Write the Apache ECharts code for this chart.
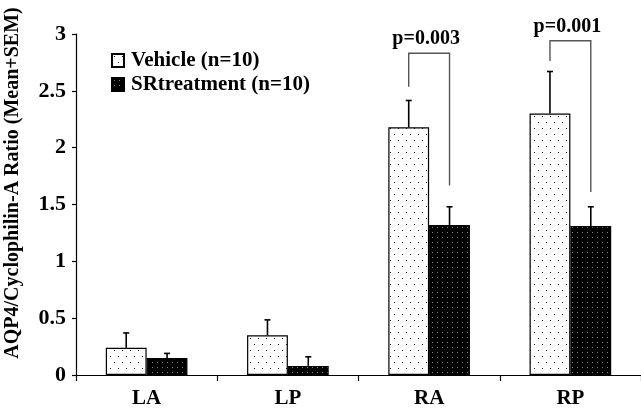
<!DOCTYPE html>
<html><head><meta charset="utf-8">
<script src="https://cdn.jsdelivr.net/npm/echarts@6/dist/echarts.min.js"></script>
<style>html,body{margin:0;padding:0;background:#fff}#c{width:641px;height:409px}</style>
</head><body><div id="c"></div>
<script>
var categories = ['LA', 'LP', 'RA', 'RP'];
var vehicleMean = [0.24, 0.35, 2.18, 2.30];
var vehicleSem = [0.13, 0.135, 0.235, 0.37];
var srMean = [0.15, 0.08, 1.32, 1.31];
var srSem = [0.04, 0.08, 0.16, 0.17];
var seriesNames = ['Vehicle (n=10)', 'SRtreatment (n=10)'];
var yTicks = [0, 0.5, 1, 1.5, 2, 2.5, 3];
// brackets: category index, left leg bottom, top, right leg bottom, label
var bracketCat = [2, 3];
var bracketLeft = [2.535, 2.763];
var bracketTop = [2.83, 2.94];
var bracketRight = [1.667, 1.61];
var bracketLabel = ['p=0.003', 'p=0.001'];
var bracketLabelY = [2.955, 3.06];

var FONT = '"Liberation Serif", "Times New Roman", serif';

function makePattern(bg, dot, w, h, dots) {
  var c = document.createElement('canvas');
  c.width = w; c.height = h;
  var ctx = c.getContext('2d');
  ctx.fillStyle = bg; ctx.fillRect(0, 0, w, h);
  ctx.fillStyle = dot;
  dots.forEach(function (d) { ctx.fillRect(d[0], d[1], 1, 1); });
  return c;
}
var vehPat = makePattern('#ffffff', '#222222', 8, 12, [[2, 2], [6, 8]]);
var srPat = makePattern('#000000', '#8a8a8a', 5, 5, [[2, 2]]);

var chart = echarts.init(document.getElementById('c'), null, {renderer: 'canvas'});

var BW = 0.289;

function errItem(means, sems, side) {
  return function (params, api) {
    var i = api.value(0);
    var m = means[i], s = sems[i];
    var w = api.size([1, 0])[0];
    var p0 = api.coord([i, m]);
    var p1 = api.coord([i, m + s]);
    var x = p0[0] + side * BW * w / 2;
    return {
      type: 'group',
      children: [
        {type: 'line', shape: {x1: x, y1: p0[1], x2: x, y2: p1[1]}, style: {stroke: '#000', lineWidth: 1.6}},
        {type: 'line', shape: {x1: x - 3, y1: p1[1], x2: x + 3, y2: p1[1]}, style: {stroke: '#000', lineWidth: 1.6}}
      ]
    };
  };
}

chart.setOption({
  animation: false,
  backgroundColor: '#fff',
  grid: {left: 76, top: 34, width: 567, height: 342, containLabel: false},
  legend: {
    data: seriesNames,
    orient: 'vertical',
    left: 106, top: 45,
    itemWidth: 12, itemHeight: 13, itemGap: 3,
    icon: 'rect',
    textStyle: {fontFamily: FONT, fontWeight: 'bold', fontSize: 21, color: '#000', padding: [0, 0, 0, 2]}
  },
  xAxis: {
    type: 'category',
    data: categories,
    axisLine: {lineStyle: {color: '#000', width: 1.2}},
    axisTick: {show: true, length: 6, lineStyle: {color: '#000', width: 1.2}},
    axisLabel: {fontFamily: FONT, fontWeight: 'bold', fontSize: 21, color: '#000', margin: 13}
  },
  yAxis: {
    type: 'value', min: 0, max: 3, interval: 0.5,
    axisLine: {show: true, lineStyle: {color: '#000', width: 1.2}},
    axisTick: {show: true, length: 4, lineStyle: {color: '#000', width: 1.2}},
    splitLine: {show: false},
    axisLabel: {fontFamily: FONT, fontWeight: 'bold', fontSize: 22, color: '#000', margin: 10,
      formatter: function (v) { return yTicks.indexOf(v) >= 0 ? String(v) : ''; }}
  },
  graphic: [{
    type: 'text', rotation: Math.PI / 2, x: 13, y: 183,
    style: {text: 'AQP4/Cyclophilin-A Ratio (Mean+SEM)', fontFamily: FONT, fontWeight: 'bold', fontSize: 20,
      fill: '#000', align: 'center', verticalAlign: 'middle'}
  }],
  series: [
    {name: seriesNames[0], type: 'bar', data: vehicleMean, barWidth: '28.9%', barGap: '0%',
      itemStyle: {color: {image: vehPat, repeat: 'repeat'}, borderColor: '#000', borderWidth: 1.2}},
    {name: seriesNames[1], type: 'bar', data: srMean, barWidth: '28.9%', barGap: '0%',
      itemStyle: {color: {image: srPat, repeat: 'repeat'}, borderColor: '#000', borderWidth: 1.2}},
    {type: 'custom', name: 'errV', data: categories.map(function (c, i) { return [i]; }),
      renderItem: errItem(vehicleMean, vehicleSem, -1), z: 5},
    {type: 'custom', name: 'errS', data: categories.map(function (c, i) { return [i]; }),
      renderItem: errItem(srMean, srSem, 1), z: 5},
    {type: 'custom', name: 'brackets', clip: false, z: 6,
      data: bracketCat.map(function (c, k) { return [c, k]; }),
      renderItem: function (params, api) {
        var c = api.value(0), k = api.value(1);
        var w = api.size([1, 0])[0];
        var pl = api.coord([c, bracketLeft[k]]);
        var pt = api.coord([c, bracketTop[k]]);
        var pr = api.coord([c, bracketRight[k]]);
        var pLab = api.coord([c, bracketLabelY[k]]);
        var xl = pl[0] - BW * w / 2, xr = pl[0] + BW * w / 2;
        return {
          type: 'group',
          children: [
            {type: 'polyline', shape: {points: [[xl, pl[1]], [xl, pt[1]], [xr, pt[1]], [xr, pr[1]]]},
              style: {stroke: '#555', lineWidth: 1.4, fill: null}},
            {type: 'text', x: pLab[0] - 3, y: pLab[1],
              style: {text: bracketLabel[k], fontFamily: FONT, fontWeight: 'bold', fontSize: 20, fill: '#000',
                align: 'center', verticalAlign: 'middle'}}
          ]
        };
      }}
  ]
});
</script></body></html>
